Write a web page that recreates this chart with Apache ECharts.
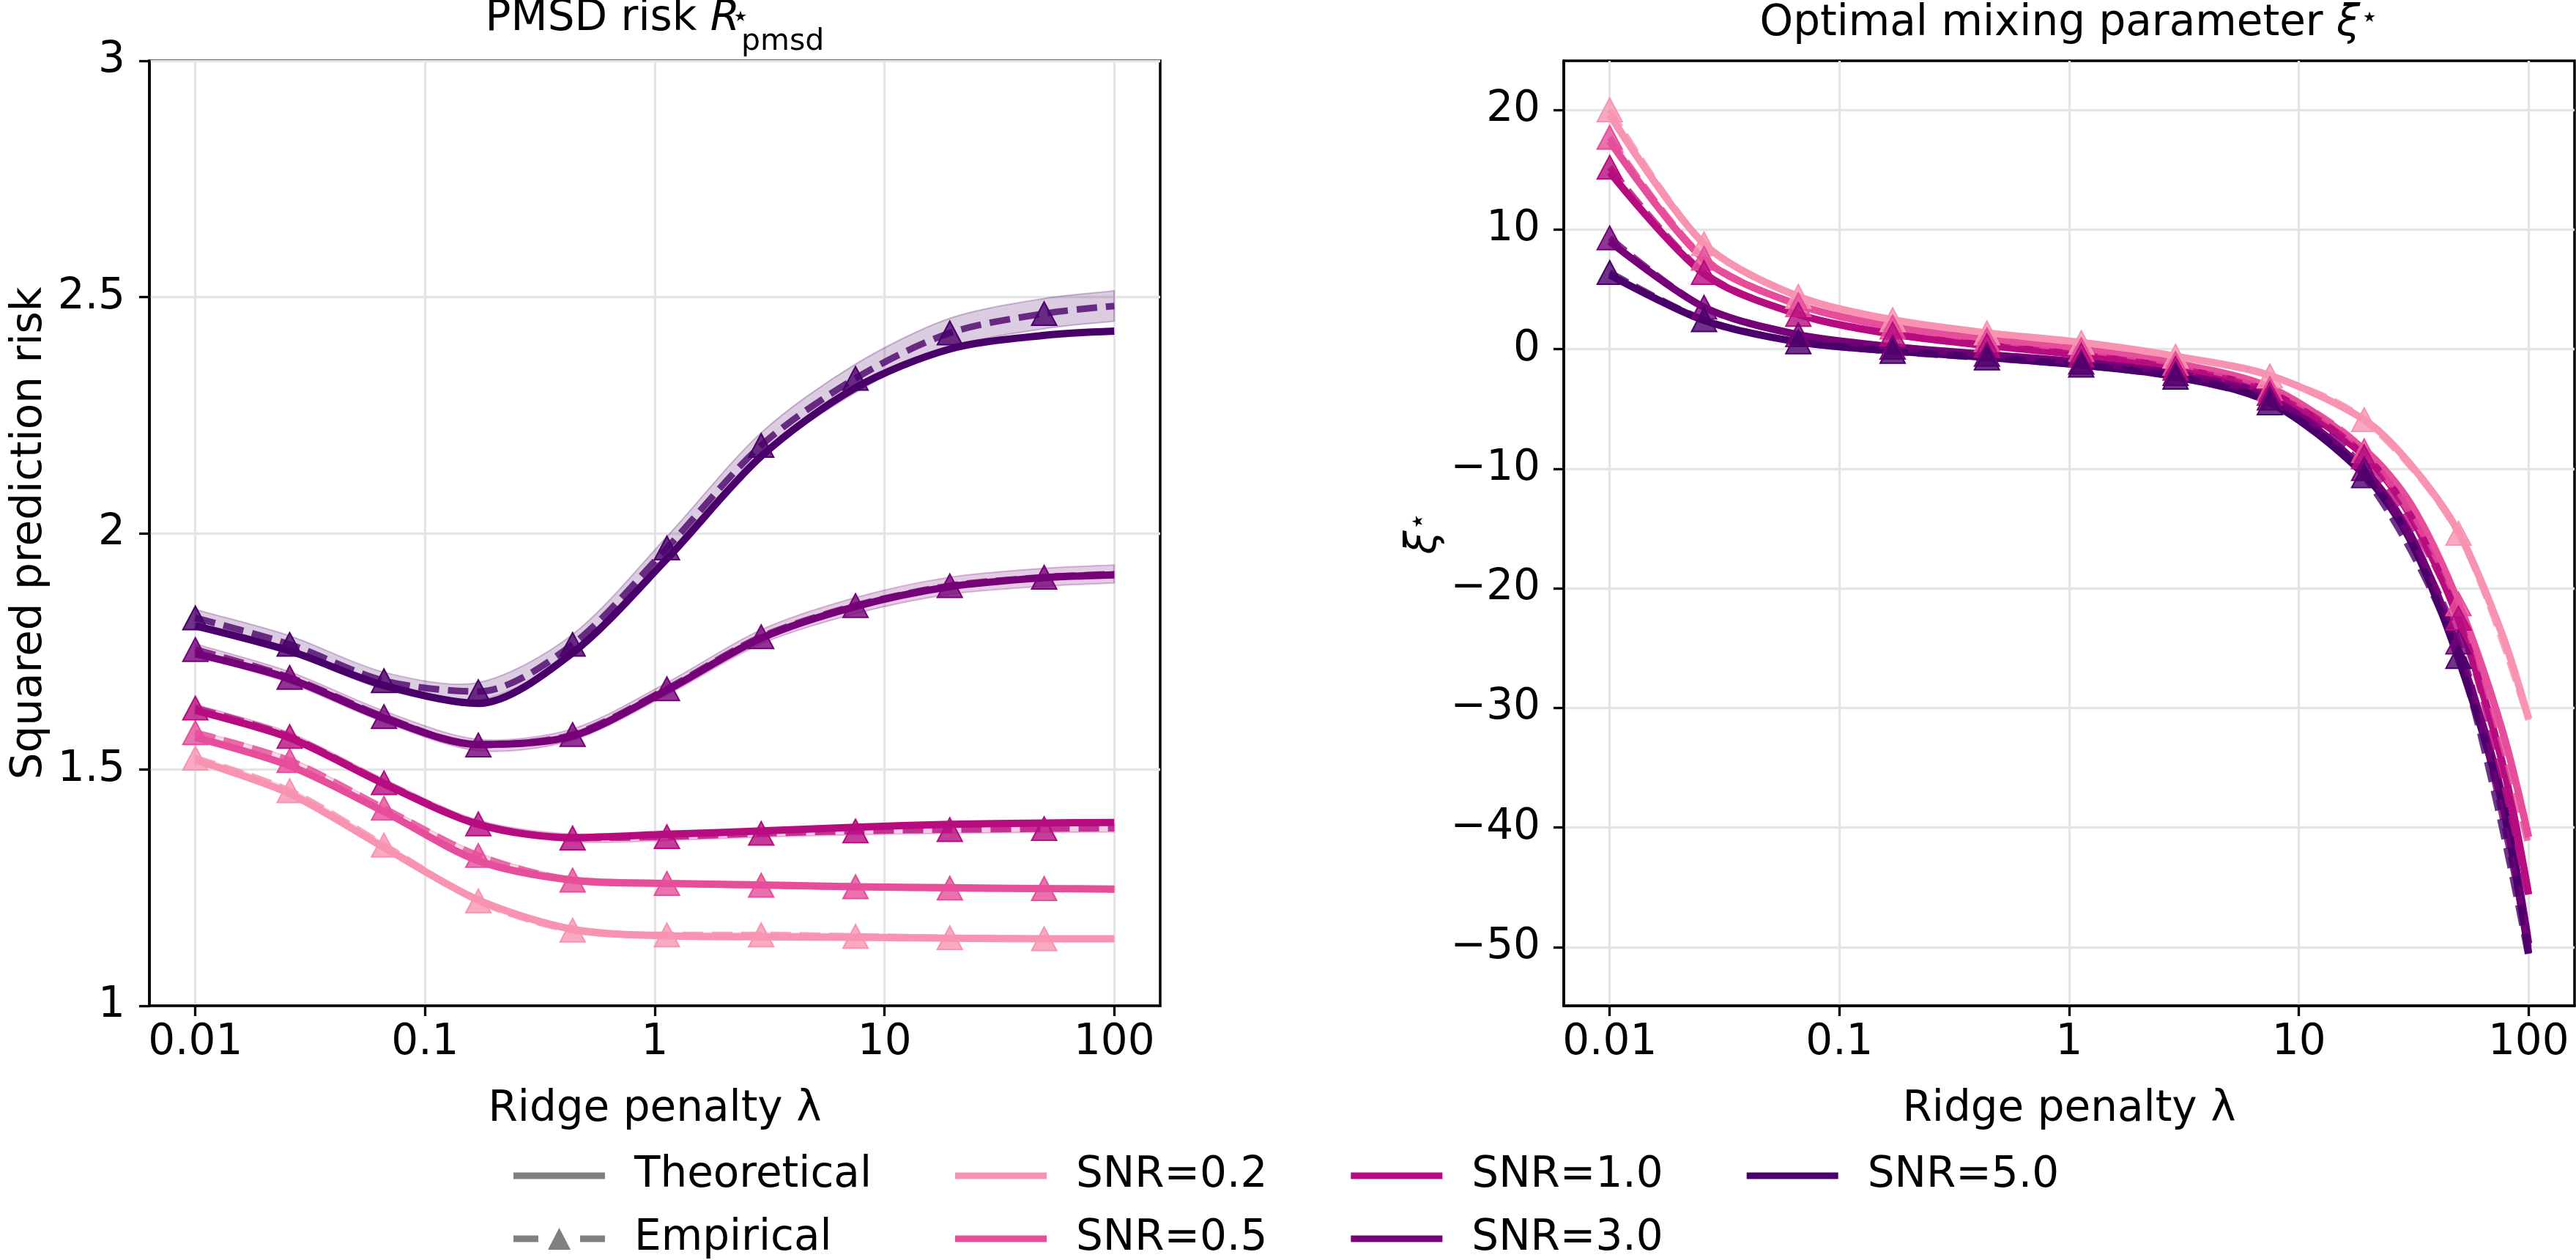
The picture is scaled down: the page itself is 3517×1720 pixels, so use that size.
<!DOCTYPE html>
<html>
<head>
<meta charset="utf-8">
<script src="https://cdn.jsdelivr.net/npm/echarts@6/dist/echarts.min.js"></script>
<style>
html, body { margin: 0; padding: 0; background: #fff; }
#chart-container { width: 3517px; height: 1720px; }
</style>
</head>
<body>
<div id="chart-container"></div>
<script>
var dom = document.getElementById('chart-container');
var myChart = echarts.init(dom, null, { renderer: 'canvas' });

// ridge penalties where the empirical curves were sampled (markers on the first 10)
var lamEmp = [0.01, 0.02574, 0.06623, 0.1705, 0.4387, 1.129, 2.905, 7.477, 19.24, 49.52, 100];
// extra points for the steep tail of the xi curves
var lamXi = [0.01, 0.02574, 0.06623, 0.1705, 0.4387, 1.129, 2.905, 7.477, 19.24, 30.8, 49.52, 76.9, 100];

var snrNames = ['SNR=0.2', 'SNR=0.5', 'SNR=1.0', 'SNR=3.0', 'SNR=5.0'];
var snrColors = ['#f893b1', '#e64d9a', '#b70b80', '#760178', '#4a006a'];

// left panel: PMSD risk
var riskTheory = [
    [1.520, 1.449, 1.335, 1.224, 1.162, 1.148, 1.146, 1.145, 1.143, 1.142, 1.142],
    [1.568, 1.508, 1.411, 1.307, 1.266, 1.259, 1.256, 1.252, 1.250, 1.248, 1.247],
    [1.625, 1.567, 1.470, 1.384, 1.356, 1.363, 1.370, 1.378, 1.384, 1.387, 1.388],
    [1.745, 1.692, 1.609, 1.553, 1.571, 1.668, 1.778, 1.845, 1.887, 1.906, 1.912],
    [1.804, 1.751, 1.678, 1.640, 1.747, 1.946, 2.163, 2.308, 2.390, 2.419, 2.428]
];
var riskEmp = [
    [1.524, 1.455, 1.340, 1.222, 1.160, 1.150, 1.150, 1.147, 1.144, 1.142, 1.142],
    [1.578, 1.519, 1.418, 1.318, 1.266, 1.259, 1.255, 1.252, 1.249, 1.248, 1.247],
    [1.630, 1.570, 1.472, 1.385, 1.355, 1.358, 1.365, 1.370, 1.373, 1.375, 1.376],
    [1.754, 1.695, 1.612, 1.552, 1.574, 1.671, 1.781, 1.847, 1.889, 1.907, 1.914],
    [1.821, 1.765, 1.688, 1.665, 1.765, 1.969, 2.186, 2.328, 2.424, 2.465, 2.481]
];
// half width of the shaded band around the empirical risk
var riskBand = [
    [0.005, 0.005, 0.005, 0.005, 0.005, 0.005, 0.005, 0.005, 0.005, 0.005, 0.005],
    [0.006, 0.006, 0.006, 0.006, 0.006, 0.006, 0.006, 0.006, 0.006, 0.006, 0.006],
    [0.008, 0.008, 0.008, 0.008, 0.008, 0.008, 0.008, 0.008, 0.008, 0.008, 0.008],
    [0.012, 0.012, 0.012, 0.012, 0.012, 0.013, 0.015, 0.017, 0.018, 0.019, 0.019],
    [0.018, 0.018, 0.018, 0.019, 0.021, 0.024, 0.027, 0.030, 0.031, 0.032, 0.032]
];

// right panel: optimal mixing parameter
var xiTheory = [
    [19.6, 8.8, 4.4, 2.45, 1.35, 0.55, -0.6, -2.2, -5.9, -9.7, -15.3, -23.9, -30.9],
    [17.4, 7.5, 3.7, 1.84, 0.78, -0.05, -1.2, -3.2, -8.4, -13.0, -21.2, -31.9, -40.8],
    [14.8, 6.3, 2.9, 1.25, 0.3, -0.5, -1.6, -3.6, -8.9, -14.0, -22.6, -34.6, -45.6],
    [9.0, 3.5, 1.2, 0.2, -0.45, -1.1, -2.05, -4.05, -10.1, -15.6, -25.2, -37.4, -49.7],
    [6.2, 2.4, 0.6, -0.15, -0.7, -1.35, -2.3, -4.45, -10.5, -16.1, -25.9, -38.1, -50.5]
];
var xiEmp = [
    [20.0, 8.8, 4.4, 2.45, 1.35, 0.55, -0.6, -2.25, -5.9, -15.4, -31.0],
    [17.7, 7.6, 3.7, 1.84, 0.78, -0.05, -1.2, -3.3, -8.5, -21.3, -41.5],
    [15.2, 6.4, 2.9, 1.25, 0.3, -0.5, -1.6, -3.7, -9.0, -22.5, -45.8],
    [9.3, 3.5, 1.2, 0.15, -0.45, -1.1, -2.05, -4.1, -10.0, -24.5, -50.0],
    [6.4, 2.45, 0.6, -0.2, -0.75, -1.35, -2.35, -4.5, -10.6, -25.7, -50.8]
];

var xTicks = [0.01, 0.1, 1, 10, 100];
var riskTicks = [1, 1.5, 2, 2.5, 3];
var xiTicks = [-50, -40, -30, -20, -10, 0, 10, 20];

var FONT = 'DejaVu Sans';
var FS = 58;
var SMOOTH = 0.3;
var LINE_ICON = 'path://M0,0 L125,0 L125,9 L0,9 Z';
var EMP_ICON = 'path://M0,10.5 L34,10.5 L34,19.5 L0,19.5 Z M91,10.5 L125,10.5 L125,19.5 L91,19.5 Z M62.5,0 L78,30 L47,30 Z';

function pairs(xs, ys) {
    return xs.map(function (x, i) { return [x, ys[i]]; });
}
function empData(ys) {
    return lamEmp.map(function (x, i) {
        var d = { value: [x, ys[i]] };
        if (i === lamEmp.length - 1) d.symbol = 'none';
        return d;
    });
}
function hexA(hex, a) {
    var r = parseInt(hex.slice(1, 3), 16), g = parseInt(hex.slice(3, 5), 16), b = parseInt(hex.slice(5, 7), 16);
    return 'rgba(' + r + ',' + g + ',' + b + ',' + a + ')';
}
function fmtNum(v) {
    var s = String(+(+v).toPrecision(3));
    return s.charAt(0) === '-' ? '\u2212' + s.slice(1) : s;
}

// bezier control point like the line series smoothing
function ctrl(prev, p, next, forward) {
    var vx = next[0] - prev[0], vy = next[1] - prev[1];
    var l0 = Math.hypot(p[0] - prev[0], p[1] - prev[1]);
    var l1 = Math.hypot(next[0] - p[0], next[1] - p[1]);
    var r = l0 + l1 > 0 ? l1 / (l0 + l1) : 0.5;
    if (forward) return [p[0] + vx * SMOOTH * r, p[1] + vy * SMOOTH * r];
    return [p[0] - vx * SMOOTH * (1 - r), p[1] - vy * SMOOTH * (1 - r)];
}
function curveTo(pts) {
    var s = '';
    for (var k = 0; k < pts.length - 1; k++) {
        var p0 = pts[Math.max(k - 1, 0)], p1 = pts[k], p2 = pts[k + 1], p3 = pts[Math.min(k + 2, pts.length - 1)];
        var c1 = ctrl(p0, p1, p2, true), c2 = ctrl(p1, p2, p3, false);
        s += ' C' + c1[0] + ',' + c1[1] + ' ' + c2[0] + ',' + c2[1] + ' ' + p2[0] + ',' + p2[1];
    }
    return s;
}
function bandRenderer(idx) {
    var c = snrColors[idx];
    return function (params, api) {
        var top = lamEmp.map(function (x, k) { return api.coord([x, riskEmp[idx][k] + riskBand[idx][k]]); });
        var bot = lamEmp.map(function (x, k) { return api.coord([x, riskEmp[idx][k] - riskBand[idx][k]]); }).reverse();
        var d = 'M' + top[0][0] + ',' + top[0][1] + curveTo(top) +
            ' L' + bot[0][0] + ',' + bot[0][1] + curveTo(bot) + ' Z';
        return {
            type: 'path',
            shape: { pathData: d },
            style: { fill: hexA(c, 0.2), stroke: hexA(c, 0.25), lineWidth: 2 }
        };
    };
}

var series = [];
// legend-only entries
series.push({
    name: 'Theoretical', type: 'line', data: [], symbol: 'none',
    itemStyle: { color: '#808080' }, lineStyle: { color: '#808080', width: 10 }
});
series.push({
    name: 'Empirical', type: 'line', data: [], symbol: 'triangle',
    itemStyle: { color: '#808080' }, lineStyle: { color: '#808080', width: 9, type: 'dashed' }
});

for (var i = 0; i < snrNames.length; i++) {
    var c = snrColors[i];
    series.push({
        name: snrNames[i] + ' band', type: 'custom', xAxisIndex: 0, yAxisIndex: 0,
        data: [[lamEmp[0], riskEmp[i][0]]], renderItem: bandRenderer(i), z: 1, silent: true
    });
    // theoretical curves
    series.push({
        name: snrNames[i], type: 'line', xAxisIndex: 0, yAxisIndex: 0,
        data: pairs(lamEmp, riskTheory[i]), smooth: SMOOTH, symbol: 'none',
        itemStyle: { color: c }, lineStyle: { color: c, width: 10 }, z: 2
    });
    series.push({
        name: snrNames[i], type: 'line', xAxisIndex: 1, yAxisIndex: 1,
        data: pairs(lamXi, xiTheory[i]), smooth: SMOOTH, symbol: 'none',
        itemStyle: { color: c }, lineStyle: { color: c, width: 10 }, z: 2
    });
    // empirical curves
    [[0, riskEmp[i]], [1, xiEmp[i]]].forEach(function (p) {
        series.push({
            name: snrNames[i] + ' emp', type: 'line', xAxisIndex: p[0], yAxisIndex: p[0],
            data: empData(p[1]), smooth: SMOOTH, symbol: 'triangle', symbolSize: [34, 32],
            showAllSymbol: true,
            itemStyle: { color: hexA(c, 0.8), borderColor: c, borderWidth: 2 },
            lineStyle: { color: c, width: 9, type: [28, 12], opacity: 0.8 }, z: 3
        });
    });
}

var axisText = { fontFamily: FONT, fontSize: FS, color: '#000' };
function rich(extra) {
    var base = { fontFamily: FONT, color: '#000', fontWeight: 'normal', verticalAlign: 'top' };
    return Object.assign({}, base, extra);
}

function xAxisCfg(g) {
    return {
        type: 'log', logBase: 10, gridIndex: g,
        min: Math.pow(10, -2.2), max: Math.pow(10, 2.2),
        name: 'Ridge penalty \u03bb', nameLocation: 'middle', nameGap: 108,
        nameTextStyle: { fontFamily: FONT, fontSize: FS, color: '#000', lineHeight: 68 },
        axisLine: { show: true, onZero: false, lineStyle: { color: '#000', width: 3.5 } },
        axisTick: { show: true, length: 14, lineStyle: { color: '#000', width: 3.3 }, customValues: xTicks },
        axisLabel: Object.assign({ margin: 22, customValues: xTicks, formatter: fmtNum, lineHeight: 58 }, axisText),
        splitLine: { show: true, lineStyle: { color: '#e5e5e5', width: 3.3 } },
        minorTick: { show: false }
    };
}

option = {
    animation: false,
    backgroundColor: '#fff',
    title: [{
        text: '{n|PMSD risk }{i|R}{sup|\u22c6}{sub|pmsd}',
        left: 894, top: -3, textAlign: 'center', padding: 0,
        textStyle: {
            fontWeight: 'normal',
            rich: {
                n: rich({ fontSize: FS, lineHeight: 68 }),
                i: rich({ fontSize: FS, lineHeight: 68, fontStyle: 'italic' }),
                sup: rich({ fontSize: 40, lineHeight: 40, padding: [8, 0, 0, 0], width: 2 }),
                sub: rich({ fontSize: 41, lineHeight: 40, padding: [40, 0, 0, 0] })
            }
        }
    }, {
        text: '{n|Optimal mixing parameter }{i|\u03be}{sup|\u22c6}',
        left: 2825, top: 4, textAlign: 'center', padding: 0,
        textStyle: {
            fontWeight: 'normal',
            rich: {
                n: rich({ fontSize: FS, lineHeight: 68 }),
                i: rich({ fontSize: FS, lineHeight: 68, fontStyle: 'italic' }),
                sup: rich({ fontSize: 40, lineHeight: 40, padding: [2, 0, 0, 0] })
            }
        }
    }],
    legend: {
        data: [
            { name: 'Theoretical', icon: LINE_ICON },
            { name: 'Empirical', icon: EMP_ICON }
        ].concat(snrNames.map(function (n) { return { name: n, icon: LINE_ICON }; })),
        orient: 'vertical', left: 696, top: 1569, height: 160,
        itemWidth: 125, itemHeight: 30, itemGap: 24, symbolKeepAspect: true,
        textStyle: { fontFamily: FONT, fontSize: FS, color: '#000', lineHeight: 62, padding: [0, 90, 0, 35] },
        selectedMode: false
    },
    grid: [
        { left: 204, top: 83, width: 1380, height: 1290, show: true, borderColor: '#000', borderWidth: 3.5, outerBoundsMode: 'none' },
        { left: 2135, top: 83, width: 1380, height: 1290, show: true, borderColor: '#000', borderWidth: 3.5, outerBoundsMode: 'none' }
    ],
    xAxis: [xAxisCfg(0), xAxisCfg(1)],
    yAxis: [{
        type: 'value', gridIndex: 0, min: 1, max: 3, interval: 0.5,
        name: 'Squared prediction risk', nameLocation: 'middle', nameGap: 119,
        nameTextStyle: { fontFamily: FONT, fontSize: FS, color: '#000', lineHeight: 68 },
        axisLine: { show: true, onZero: false, lineStyle: { color: '#000', width: 3.5 } },
        axisTick: { show: true, length: 14, lineStyle: { color: '#000', width: 3.3 }, customValues: riskTicks },
        axisLabel: Object.assign({ margin: 33, customValues: riskTicks, formatter: fmtNum }, axisText),
        splitLine: { show: true, lineStyle: { color: '#e5e5e5', width: 3.3 } }
    }, {
        type: 'value', gridIndex: 1, min: -54.9, max: 24.1, splitNumber: 8,
        name: '{i|\u03be}{sup|\u22c6}', nameLocation: 'middle', nameGap: 151,
        nameTextStyle: {
            rich: {
                i: rich({ fontSize: FS, lineHeight: 68, fontStyle: 'italic' }),
                sup: rich({ fontSize: 40, lineHeight: 40, padding: [2, 0, 0, 0] })
            }
        },
        axisLine: { show: true, onZero: false, lineStyle: { color: '#000', width: 3.5 } },
        axisTick: { show: true, length: 14, lineStyle: { color: '#000', width: 3.3 }, customValues: xiTicks },
        axisLabel: Object.assign({ margin: 32, customValues: xiTicks, formatter: fmtNum }, axisText),
        splitLine: { show: true, lineStyle: { color: '#e5e5e5', width: 3.3 } }
    }],
    series: series
};

if (option && typeof option === 'object') {
    myChart.setOption(option);
}

window.addEventListener('resize', myChart.resize);
</script>
</body>
</html>
